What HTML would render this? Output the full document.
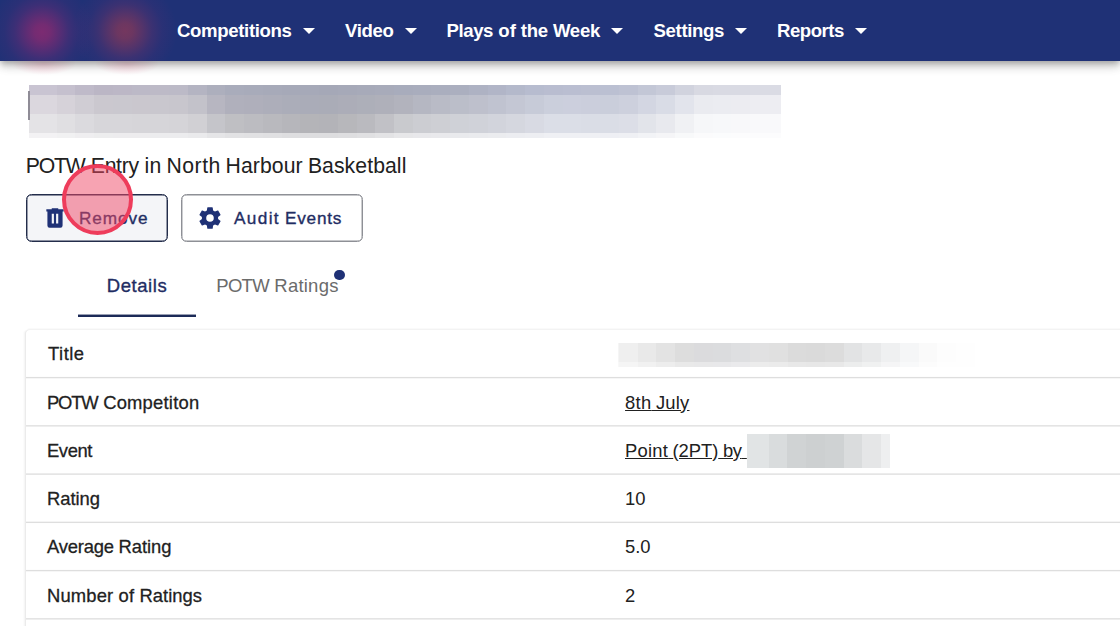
<!DOCTYPE html>
<html lang="en">
<head>
<meta charset="utf-8">
<title>POTW Entry</title>
<style>
  html, body { margin: 0; padding: 0; }
  body {
    width: 1120px; height: 626px; overflow: hidden; position: relative;
    background: #ffffff;
    font-family: "Liberation Sans", sans-serif;
    color: #212121;
  }
  .abs { position: absolute; white-space: nowrap; }

  /* ---------- top navigation ---------- */
  .nav {
    position: absolute; left: 0; top: 0; width: 1120px; height: 61px;
    background: #1f3176;
    box-shadow: 0 3px 5.5px -1.3px rgba(0,0,0,.2), 0 6px 8px 0 rgba(0,0,0,.14), 0 1.5px 14px 0 rgba(0,0,0,.12);
    z-index: 5;
  }
  .navclip { position: absolute; left: 0; top: 0; width: 1120px; height: 61px; overflow: hidden; z-index: 6; }
  .blob { position: absolute; border-radius: 50%; }
  .glow { position: absolute; top: 53px; width: 64px; height: 22px; z-index: 4; border-radius: 50%;
          background: radial-gradient(ellipse closest-side, rgba(226,96,132,.24) 0%, rgba(226,96,132,.12) 55%, rgba(226,96,132,0) 100%); }
  .navitem {
    position: absolute; top: 0; height: 61px; line-height: 61px; z-index: 7;
    color: #ffffff; font-weight: 700; font-size: 18.6px; letter-spacing: -0.35px; white-space: nowrap;
  }
  .caret {
    position: absolute; top: 28px; width: 0; height: 0; z-index: 7;
    border-left: 6px solid transparent; border-right: 6px solid transparent;
    border-top: 6.5px solid #ffffff;
  }

  /* ---------- page header ---------- */
  .subtitle { left: 26px; top: 152px; font-size: 21.2px; line-height: 28px; color: #212121; }

  .btn {
    position: absolute; top: 194px; height: 47.5px; box-sizing: border-box;
    border: 1px solid #8e9096; box-shadow: inset 0 0 0 .45px #8e9096; border-radius: 5.5px; background: #ffffff;
    color: #1f2d63; font-weight: 400; -webkit-text-stroke: 0.35px #1f2d63; font-size: 17.2px; letter-spacing: 0.9px; white-space: nowrap;
  }
  .btn.hover { border-color: #232d4b; box-shadow: inset 0 0 0 .45px #232d4b; background: #f4f5f8; }
  .btn svg { position: absolute; top: 9.9px; width: 26px; height: 26px; fill: #1f3176; }
  .btn > span { position: absolute; top: 0; line-height: 46px; }

  .clickring {
    position: absolute; left: 62.2px; top: 163.5px; width: 71px; height: 71px; box-sizing: border-box;
    border-radius: 50%; border: 4px solid #ee3c5b; background: rgba(240, 72, 102, .5); z-index: 20;
  }

  /* ---------- tabs ---------- */
  .tab { position: absolute; top: 254px; height: 64px; line-height: 64px; font-size: 18.5px; white-space: nowrap; }
  .tab.active { color: #1f2d63; font-weight: 400; -webkit-text-stroke: 0.35px #1f2d63; }
  .tab.idle { color: #6b6b6b; }
  .slider { position: absolute; left: 78px; top: 315px; width: 118px; height: 2px; background: #1c2a57; box-shadow: 0 -1px 0 0 rgba(28,42,87,.45); }
  .dot { position: absolute; left: 334px; top: 269.5px; width: 10.6px; height: 10.6px; border-radius: 50%; background: #1f3176; }

  /* ---------- details card ---------- */
  .card {
    position: absolute; left: 26px; top: 330px; width: 1200px; height: 400px;
    background: #fff; border-radius: 4px;
    box-shadow: -1px 0 0 0 #ebebeb, -2px 0 0 0 #f6f6f6, -3px 0 0 0 #fcfcfc, 0 -1px 0 0 #f3f3f3, 0 -2px 0 0 #fafafa;
  }
  .row { position: absolute; left: 0; width: 1200px; height: 48.25px; }
  .ln { position: absolute; left: 0; width: 1200px; height: 1px; }
  .row .k { position: absolute; left: 21px; top: 1px; line-height: 48.25px; font-weight: 400; -webkit-text-stroke: 0.28px #212121; font-size: 18.4px; color: #212121; white-space: nowrap; }
  .row .v { position: absolute; left: 599px; top: 1px; line-height: 48.25px; font-size: 18.4px; color: #212121; white-space: nowrap; }
  .row .v a { color: #212121; text-decoration: underline; }
  .pxwrap { position: absolute; left: 0; top: 0; width: 0; height: 0; z-index: 3; }
  .pxwrap i { position: absolute; display: block; }
</style>
</head>
<body>

<!-- NAV -->
<div class="nav"></div>
<div class="navclip">
  <div class="blob" style="left:-10px;top:-20px;width:104px;height:104px;background:radial-gradient(circle closest-side, rgba(139,42,113,.86) 0%, rgba(139,42,113,.78) 15%, rgba(135,42,115,.56) 33%, rgba(125,42,118,.32) 52%, rgba(110,42,120,.14) 72%, rgba(100,42,120,0) 100%);"></div>
  <div class="blob" style="left:73px;top:-21px;width:104px;height:104px;background:radial-gradient(circle closest-side, rgba(130,56,91,.86) 0%, rgba(130,56,91,.78) 15%, rgba(128,54,96,.56) 33%, rgba(120,50,105,.32) 52%, rgba(110,46,115,.14) 72%, rgba(100,42,120,0) 100%);"></div>
</div>
<div class="glow" style="left:12px;"></div>
<div class="glow" style="left:95px;"></div>

<div class="navitem" style="left:177px;">Competitions</div><div class="caret" style="left:303px;"></div>
<div class="navitem" style="left:345px;">Video</div><div class="caret" style="left:404.5px;"></div>
<div class="navitem" style="left:446.5px;letter-spacing:0;"><!--T:plays--><span style="letter-spacing:-0.41px">Plays</span> <span style="letter-spacing:0.09px;margin-left:0.00px">of</span> <span style="letter-spacing:-0.19px;margin-left:-0.49px">the</span> <span style="letter-spacing:-0.30px;margin-left:-0.21px">Week</span><!--/T:plays--></div><div class="caret" style="left:611px;"></div>
<div class="navitem" style="left:653.5px;">Settings</div><div class="caret" style="left:735px;"></div>
<div class="navitem" style="left:777px;letter-spacing:-0.5px;">Reports</div><div class="caret" style="left:855px;"></div>

<!-- pixelated (redacted) page title -->
<!--PXTITLE--><div class="pxwrap"><i style="left:29.3px;top:85.4px;width:8.9px;height:9.6px;background:#c9c4d2"></i><i style="left:37.9px;top:85.4px;width:19.0px;height:9.6px;background:#c9c4d2"></i><i style="left:56.6px;top:85.4px;width:19.0px;height:9.6px;background:#c5c0ce"></i><i style="left:75.4px;top:85.4px;width:19.0px;height:9.6px;background:#bfbac9"></i><i style="left:94.1px;top:85.4px;width:19.0px;height:9.6px;background:#bbb6c5"></i><i style="left:112.8px;top:85.4px;width:19.0px;height:9.6px;background:#bcb7c6"></i><i style="left:131.6px;top:85.4px;width:19.0px;height:9.6px;background:#bcb9c7"></i><i style="left:150.3px;top:85.4px;width:19.0px;height:9.6px;background:#bdbac7"></i><i style="left:169.1px;top:85.4px;width:19.0px;height:9.6px;background:#bcbac7"></i><i style="left:187.8px;top:85.4px;width:19.0px;height:9.6px;background:#b4b4c2"></i><i style="left:206.5px;top:85.4px;width:19.0px;height:9.6px;background:#adafbd"></i><i style="left:225.3px;top:85.4px;width:19.0px;height:9.6px;background:#a9acbb"></i><i style="left:244.0px;top:85.4px;width:19.0px;height:9.6px;background:#a8abba"></i><i style="left:262.8px;top:85.4px;width:19.0px;height:9.6px;background:#a7aab9"></i><i style="left:281.5px;top:85.4px;width:19.0px;height:9.6px;background:#a6a9b8"></i><i style="left:300.2px;top:85.4px;width:19.0px;height:9.6px;background:#a6a9b8"></i><i style="left:319.0px;top:85.4px;width:19.0px;height:9.6px;background:#a5a8b7"></i><i style="left:337.7px;top:85.4px;width:19.0px;height:9.6px;background:#a6a9b8"></i><i style="left:356.5px;top:85.4px;width:19.0px;height:9.6px;background:#a7aab9"></i><i style="left:375.2px;top:85.4px;width:19.0px;height:9.6px;background:#a8abba"></i><i style="left:393.9px;top:85.4px;width:19.0px;height:9.6px;background:#a8acbc"></i><i style="left:412.7px;top:85.4px;width:19.0px;height:9.6px;background:#a9adbd"></i><i style="left:431.4px;top:85.4px;width:19.0px;height:9.6px;background:#aaaebe"></i><i style="left:450.2px;top:85.4px;width:19.0px;height:9.6px;background:#abafbf"></i><i style="left:468.9px;top:85.4px;width:19.0px;height:9.6px;background:#aeb2c3"></i><i style="left:487.6px;top:85.4px;width:19.0px;height:9.6px;background:#b1b5c7"></i><i style="left:506.4px;top:85.4px;width:19.0px;height:9.6px;background:#b4b9cb"></i><i style="left:525.1px;top:85.4px;width:19.0px;height:9.6px;background:#b7bccf"></i><i style="left:543.9px;top:85.4px;width:19.0px;height:9.6px;background:#b9bdd0"></i><i style="left:562.6px;top:85.4px;width:19.0px;height:9.6px;background:#babed1"></i><i style="left:581.3px;top:85.4px;width:19.0px;height:9.6px;background:#bbbfd1"></i><i style="left:600.1px;top:85.4px;width:19.0px;height:9.6px;background:#bbc0d2"></i><i style="left:618.8px;top:85.4px;width:19.0px;height:9.6px;background:#bec2d3"></i><i style="left:637.6px;top:85.4px;width:19.0px;height:9.6px;background:#c3c7d6"></i><i style="left:656.3px;top:85.4px;width:19.0px;height:9.6px;background:#c8cbd9"></i><i style="left:675.0px;top:85.4px;width:19.0px;height:9.6px;background:#d1d3de"></i><i style="left:693.8px;top:85.4px;width:19.0px;height:9.6px;background:#d8d9e2"></i><i style="left:712.5px;top:85.4px;width:19.0px;height:9.6px;background:#d9dae3"></i><i style="left:731.3px;top:85.4px;width:19.0px;height:9.6px;background:#d9dae3"></i><i style="left:750.0px;top:85.4px;width:19.0px;height:9.6px;background:#dadbe4"></i><i style="left:768.7px;top:85.4px;width:12.8px;height:9.6px;background:#dadbe4"></i><i style="left:29.3px;top:94.8px;width:8.9px;height:19.6px;background:#dbd7de"></i><i style="left:37.9px;top:94.8px;width:19.0px;height:19.6px;background:#dbd7de"></i><i style="left:56.6px;top:94.8px;width:19.0px;height:19.6px;background:#d6d2d9"></i><i style="left:75.4px;top:94.8px;width:19.0px;height:19.6px;background:#d0cdd4"></i><i style="left:94.1px;top:94.8px;width:19.0px;height:19.6px;background:#cbc8cf"></i><i style="left:112.8px;top:94.8px;width:19.0px;height:19.6px;background:#cac8cf"></i><i style="left:131.6px;top:94.8px;width:19.0px;height:19.6px;background:#cac7ce"></i><i style="left:150.3px;top:94.8px;width:19.0px;height:19.6px;background:#c9c7ce"></i><i style="left:169.1px;top:94.8px;width:19.0px;height:19.6px;background:#c8c6cd"></i><i style="left:187.8px;top:94.8px;width:19.0px;height:19.6px;background:#c3c2ca"></i><i style="left:206.5px;top:94.8px;width:19.0px;height:19.6px;background:#b7b6c1"></i><i style="left:225.3px;top:94.8px;width:19.0px;height:19.6px;background:#b0b0bc"></i><i style="left:244.0px;top:94.8px;width:19.0px;height:19.6px;background:#afafbb"></i><i style="left:262.8px;top:94.8px;width:19.0px;height:19.6px;background:#adaeba"></i><i style="left:281.5px;top:94.8px;width:19.0px;height:19.6px;background:#abadb9"></i><i style="left:300.2px;top:94.8px;width:19.0px;height:19.6px;background:#aaacb8"></i><i style="left:319.0px;top:94.8px;width:19.0px;height:19.6px;background:#aaacb7"></i><i style="left:337.7px;top:94.8px;width:19.0px;height:19.6px;background:#acadb8"></i><i style="left:356.5px;top:94.8px;width:19.0px;height:19.6px;background:#adafb9"></i><i style="left:375.2px;top:94.8px;width:19.0px;height:19.6px;background:#afb0ba"></i><i style="left:393.9px;top:94.8px;width:19.0px;height:19.6px;background:#b2b3bd"></i><i style="left:412.7px;top:94.8px;width:19.0px;height:19.6px;background:#b5b7c2"></i><i style="left:431.4px;top:94.8px;width:19.0px;height:19.6px;background:#b9bbc6"></i><i style="left:450.2px;top:94.8px;width:19.0px;height:19.6px;background:#bbbec9"></i><i style="left:468.9px;top:94.8px;width:19.0px;height:19.6px;background:#bec0cc"></i><i style="left:487.6px;top:94.8px;width:19.0px;height:19.6px;background:#c0c3d0"></i><i style="left:506.4px;top:94.8px;width:19.0px;height:19.6px;background:#c4c7d4"></i><i style="left:525.1px;top:94.8px;width:19.0px;height:19.6px;background:#c7cbd8"></i><i style="left:543.9px;top:94.8px;width:19.0px;height:19.6px;background:#cbcfdc"></i><i style="left:562.6px;top:94.8px;width:19.0px;height:19.6px;background:#cccfdd"></i><i style="left:581.3px;top:94.8px;width:19.0px;height:19.6px;background:#cbcedc"></i><i style="left:600.1px;top:94.8px;width:19.0px;height:19.6px;background:#cacedb"></i><i style="left:618.8px;top:94.8px;width:19.0px;height:19.6px;background:#cdd0dd"></i><i style="left:637.6px;top:94.8px;width:19.0px;height:19.6px;background:#d3d6e2"></i><i style="left:656.3px;top:94.8px;width:19.0px;height:19.6px;background:#d9dce6"></i><i style="left:675.0px;top:94.8px;width:19.0px;height:19.6px;background:#e2e4ec"></i><i style="left:693.8px;top:94.8px;width:19.0px;height:19.6px;background:#eaebf0"></i><i style="left:712.5px;top:94.8px;width:19.0px;height:19.6px;background:#ebecf1"></i><i style="left:731.3px;top:94.8px;width:19.0px;height:19.6px;background:#ececf1"></i><i style="left:750.0px;top:94.8px;width:19.0px;height:19.6px;background:#ededf2"></i><i style="left:768.7px;top:94.8px;width:12.8px;height:19.6px;background:#ededf2"></i><i style="left:29.3px;top:114.2px;width:8.9px;height:19.2px;background:#e4e3e6"></i><i style="left:37.9px;top:114.2px;width:19.0px;height:19.2px;background:#e4e3e6"></i><i style="left:56.6px;top:114.2px;width:19.0px;height:19.2px;background:#e0dfe2"></i><i style="left:75.4px;top:114.2px;width:19.0px;height:19.2px;background:#dbdade"></i><i style="left:94.1px;top:114.2px;width:19.0px;height:19.2px;background:#d7d6da"></i><i style="left:112.8px;top:114.2px;width:19.0px;height:19.2px;background:#d7d6da"></i><i style="left:131.6px;top:114.2px;width:19.0px;height:19.2px;background:#d6d5d9"></i><i style="left:150.3px;top:114.2px;width:19.0px;height:19.2px;background:#d6d5d9"></i><i style="left:169.1px;top:114.2px;width:19.0px;height:19.2px;background:#d5d4d8"></i><i style="left:187.8px;top:114.2px;width:19.0px;height:19.2px;background:#d1d0d4"></i><i style="left:206.5px;top:114.2px;width:19.0px;height:19.2px;background:#c5c5ca"></i><i style="left:225.3px;top:114.2px;width:19.0px;height:19.2px;background:#bfbfc3"></i><i style="left:244.0px;top:114.2px;width:19.0px;height:19.2px;background:#bcbcc1"></i><i style="left:262.8px;top:114.2px;width:19.0px;height:19.2px;background:#b9b9be"></i><i style="left:281.5px;top:114.2px;width:19.0px;height:19.2px;background:#b6b6bb"></i><i style="left:300.2px;top:114.2px;width:19.0px;height:19.2px;background:#b4b4b8"></i><i style="left:319.0px;top:114.2px;width:19.0px;height:19.2px;background:#b3b3b8"></i><i style="left:337.7px;top:114.2px;width:19.0px;height:19.2px;background:#b7b7bb"></i><i style="left:356.5px;top:114.2px;width:19.0px;height:19.2px;background:#bababf"></i><i style="left:375.2px;top:114.2px;width:19.0px;height:19.2px;background:#c1c1c6"></i><i style="left:393.9px;top:114.2px;width:19.0px;height:19.2px;background:#c9cace"></i><i style="left:412.7px;top:114.2px;width:19.0px;height:19.2px;background:#cccdd2"></i><i style="left:431.4px;top:114.2px;width:19.0px;height:19.2px;background:#cecfd4"></i><i style="left:450.2px;top:114.2px;width:19.0px;height:19.2px;background:#cfd1d7"></i><i style="left:468.9px;top:114.2px;width:19.0px;height:19.2px;background:#d0d2d9"></i><i style="left:487.6px;top:114.2px;width:19.0px;height:19.2px;background:#d2d4dc"></i><i style="left:506.4px;top:114.2px;width:19.0px;height:19.2px;background:#d5d7df"></i><i style="left:525.1px;top:114.2px;width:19.0px;height:19.2px;background:#d8dae3"></i><i style="left:543.9px;top:114.2px;width:19.0px;height:19.2px;background:#dbdee7"></i><i style="left:562.6px;top:114.2px;width:19.0px;height:19.2px;background:#dbdee7"></i><i style="left:581.3px;top:114.2px;width:19.0px;height:19.2px;background:#dadde6"></i><i style="left:600.1px;top:114.2px;width:19.0px;height:19.2px;background:#dadde6"></i><i style="left:618.8px;top:114.2px;width:19.0px;height:19.2px;background:#dcdee7"></i><i style="left:637.6px;top:114.2px;width:19.0px;height:19.2px;background:#e2e4ea"></i><i style="left:656.3px;top:114.2px;width:19.0px;height:19.2px;background:#e8e9ee"></i><i style="left:675.0px;top:114.2px;width:19.0px;height:19.2px;background:#f0f1f4"></i><i style="left:693.8px;top:114.2px;width:19.0px;height:19.2px;background:#f6f7f9"></i><i style="left:712.5px;top:114.2px;width:19.0px;height:19.2px;background:#f7f8fa"></i><i style="left:731.3px;top:114.2px;width:19.0px;height:19.2px;background:#f8f8fa"></i><i style="left:750.0px;top:114.2px;width:19.0px;height:19.2px;background:#f9f9fb"></i><i style="left:768.7px;top:114.2px;width:12.8px;height:19.2px;background:#f9f9fb"></i><i style="left:29.3px;top:133.2px;width:8.9px;height:4.8px;background:#f3f2f4"></i><i style="left:37.9px;top:133.2px;width:19.0px;height:4.8px;background:#f3f2f4"></i><i style="left:56.6px;top:133.2px;width:19.0px;height:4.8px;background:#f1f1f2"></i><i style="left:75.4px;top:133.2px;width:19.0px;height:4.8px;background:#efeef0"></i><i style="left:94.1px;top:133.2px;width:19.0px;height:4.8px;background:#ededee"></i><i style="left:112.8px;top:133.2px;width:19.0px;height:4.8px;background:#edecee"></i><i style="left:131.6px;top:133.2px;width:19.0px;height:4.8px;background:#edecee"></i><i style="left:150.3px;top:133.2px;width:19.0px;height:4.8px;background:#ececee"></i><i style="left:169.1px;top:133.2px;width:19.0px;height:4.8px;background:#ececee"></i><i style="left:187.8px;top:133.2px;width:19.0px;height:4.8px;background:#eaeaec"></i><i style="left:206.5px;top:133.2px;width:19.0px;height:4.8px;background:#e5e5e7"></i><i style="left:225.3px;top:133.2px;width:19.0px;height:4.8px;background:#e2e2e4"></i><i style="left:244.0px;top:133.2px;width:19.0px;height:4.8px;background:#e1e1e3"></i><i style="left:262.8px;top:133.2px;width:19.0px;height:4.8px;background:#e0e0e2"></i><i style="left:281.5px;top:133.2px;width:19.0px;height:4.8px;background:#dedee0"></i><i style="left:300.2px;top:133.2px;width:19.0px;height:4.8px;background:#dddddf"></i><i style="left:319.0px;top:133.2px;width:19.0px;height:4.8px;background:#dddddf"></i><i style="left:337.7px;top:133.2px;width:19.0px;height:4.8px;background:#dedee0"></i><i style="left:356.5px;top:133.2px;width:19.0px;height:4.8px;background:#e0e0e2"></i><i style="left:375.2px;top:133.2px;width:19.0px;height:4.8px;background:#e3e3e5"></i><i style="left:393.9px;top:133.2px;width:19.0px;height:4.8px;background:#e7e7e9"></i><i style="left:412.7px;top:133.2px;width:19.0px;height:4.8px;background:#e8e8eb"></i><i style="left:431.4px;top:133.2px;width:19.0px;height:4.8px;background:#e9e9ec"></i><i style="left:450.2px;top:133.2px;width:19.0px;height:4.8px;background:#e9eaed"></i><i style="left:468.9px;top:133.2px;width:19.0px;height:4.8px;background:#eaebee"></i><i style="left:487.6px;top:133.2px;width:19.0px;height:4.8px;background:#ebecef"></i><i style="left:506.4px;top:133.2px;width:19.0px;height:4.8px;background:#ecedf1"></i><i style="left:525.1px;top:133.2px;width:19.0px;height:4.8px;background:#edeef2"></i><i style="left:543.9px;top:133.2px;width:19.0px;height:4.8px;background:#eff0f4"></i><i style="left:562.6px;top:133.2px;width:19.0px;height:4.8px;background:#eff0f4"></i><i style="left:581.3px;top:133.2px;width:19.0px;height:4.8px;background:#eff0f4"></i><i style="left:600.1px;top:133.2px;width:19.0px;height:4.8px;background:#eeeff4"></i><i style="left:618.8px;top:133.2px;width:19.0px;height:4.8px;background:#eff0f4"></i><i style="left:637.6px;top:133.2px;width:19.0px;height:4.8px;background:#f2f3f6"></i><i style="left:656.3px;top:133.2px;width:19.0px;height:4.8px;background:#f5f5f7"></i><i style="left:675.0px;top:133.2px;width:19.0px;height:4.8px;background:#f8f9fa"></i><i style="left:693.8px;top:133.2px;width:19.0px;height:4.8px;background:#fbfbfc"></i><i style="left:712.5px;top:133.2px;width:19.0px;height:4.8px;background:#fbfcfd"></i><i style="left:731.3px;top:133.2px;width:19.0px;height:4.8px;background:#fcfcfd"></i><i style="left:750.0px;top:133.2px;width:19.0px;height:4.8px;background:#fcfcfd"></i><i style="left:768.7px;top:133.2px;width:12.8px;height:4.8px;background:#fcfcfd"></i><i style="left:27.8px;top:90.5px;width:1.8px;height:29px;background:#8f8c96"></i></div><!--/PXTITLE-->
<!--PXTVAL--><div class="pxwrap"><i style="left:617.9px;top:342.5px;width:1.2px;height:20px;background:#f5f5f5"></i><i style="left:617.9px;top:362.4px;width:1.2px;height:4.4px;background:#f8f8f8"></i><i style="left:618.8px;top:342.5px;width:19.0px;height:20px;background:#efefef"></i><i style="left:618.8px;top:362.4px;width:19.0px;height:4.4px;background:#f5f5f5"></i><i style="left:637.6px;top:342.5px;width:19.0px;height:20px;background:#e9e9e9"></i><i style="left:637.6px;top:362.4px;width:19.0px;height:4.4px;background:#f1f1f1"></i><i style="left:656.3px;top:342.5px;width:19.0px;height:20px;background:#e3e3e3"></i><i style="left:656.3px;top:362.4px;width:19.0px;height:4.4px;background:#ededed"></i><i style="left:675.0px;top:342.5px;width:19.0px;height:20px;background:#dddddd"></i><i style="left:675.0px;top:362.4px;width:19.0px;height:4.4px;background:#e9e9e9"></i><i style="left:693.8px;top:342.5px;width:19.0px;height:20px;background:#dbdbdd"></i><i style="left:693.8px;top:362.4px;width:19.0px;height:4.4px;background:#e8e8e9"></i><i style="left:712.5px;top:342.5px;width:19.0px;height:20px;background:#dbdcde"></i><i style="left:712.5px;top:362.4px;width:19.0px;height:4.4px;background:#e8e8ea"></i><i style="left:731.3px;top:342.5px;width:19.0px;height:20px;background:#dedfe1"></i><i style="left:731.3px;top:362.4px;width:19.0px;height:4.4px;background:#eaeaec"></i><i style="left:750.0px;top:342.5px;width:19.0px;height:20px;background:#e1e1e2"></i><i style="left:750.0px;top:362.4px;width:19.0px;height:4.4px;background:#ececec"></i><i style="left:768.7px;top:342.5px;width:19.0px;height:20px;background:#e0e0e0"></i><i style="left:768.7px;top:362.4px;width:19.0px;height:4.4px;background:#ebebeb"></i><i style="left:787.5px;top:342.5px;width:19.0px;height:20px;background:#dbdbdb"></i><i style="left:787.5px;top:362.4px;width:19.0px;height:4.4px;background:#e8e8e8"></i><i style="left:806.2px;top:342.5px;width:19.0px;height:20px;background:#dadada"></i><i style="left:806.2px;top:362.4px;width:19.0px;height:4.4px;background:#e7e7e7"></i><i style="left:825.0px;top:342.5px;width:19.0px;height:20px;background:#dcdcdc"></i><i style="left:825.0px;top:362.4px;width:19.0px;height:4.4px;background:#e8e8e8"></i><i style="left:843.7px;top:342.5px;width:19.0px;height:20px;background:#e2e3e4"></i><i style="left:843.7px;top:362.4px;width:19.0px;height:4.4px;background:#eceded"></i><i style="left:862.4px;top:342.5px;width:19.0px;height:20px;background:#e8e9ea"></i><i style="left:862.4px;top:362.4px;width:19.0px;height:4.4px;background:#f0f1f1"></i><i style="left:881.2px;top:342.5px;width:19.0px;height:20px;background:#eff0f1"></i><i style="left:881.2px;top:362.4px;width:19.0px;height:4.4px;background:#f5f5f6"></i><i style="left:899.9px;top:342.5px;width:19.0px;height:20px;background:#f5f6f7"></i><i style="left:899.9px;top:362.4px;width:19.0px;height:4.4px;background:#f8f9fa"></i><i style="left:918.7px;top:342.5px;width:19.0px;height:20px;background:#fafafa"></i><i style="left:918.7px;top:362.4px;width:19.0px;height:4.4px;background:#fcfcfc"></i><i style="left:937.4px;top:342.5px;width:19.0px;height:20px;background:#fdfdfd"></i><i style="left:937.4px;top:362.4px;width:19.0px;height:4.4px;background:#fefefe"></i><i style="left:956.1px;top:342.5px;width:19.1px;height:20px;background:#fefefe"></i><i style="left:956.1px;top:362.4px;width:19.1px;height:4.4px;background:#fefefe"></i></div><!--/PXTVAL-->
<!--PXEV--><div class="pxwrap"><i style="left:747.4px;top:433.8px;width:21.6px;height:34px;background:#e1e4e5"></i><i style="left:768.7px;top:433.8px;width:19.0px;height:34px;background:#d9dcdd"></i><i style="left:787.4px;top:433.8px;width:19.2px;height:34px;background:#d0d3d4"></i><i style="left:806.3px;top:433.8px;width:18.5px;height:34px;background:#cdd0d1"></i><i style="left:824.5px;top:433.8px;width:19.3px;height:34px;background:#cfd2d3"></i><i style="left:843.5px;top:433.8px;width:19.0px;height:34px;background:#dadcdd"></i><i style="left:862.2px;top:433.8px;width:19.1px;height:34px;background:#e5e6e7"></i><i style="left:881.0px;top:433.8px;width:9.4px;height:34px;background:#eeeff0"></i></div><!--/PXEV-->

<div class="abs subtitle"><!--T:sub--><span style="letter-spacing:-1.20px;margin-left:-0.23px">POTW</span> <span style="letter-spacing:-0.30px;margin-left:0.37px">Entry</span> <span style="letter-spacing:0.35px;margin-left:-0.28px">in</span> <span style="letter-spacing:0.48px;margin-left:-0.92px">North</span> <span style="letter-spacing:0.07px;margin-left:-1.08px">Harbour</span> <span style="letter-spacing:0.08px;margin-left:-0.67px">Basketball</span><!--/T:sub--></div>

<!-- buttons -->
<div class="btn hover" style="left:26px;width:142px;">
  <svg viewBox="0 0 24 24" style="left:14.7px;"><path d="M9,3V4H4V6H5V19A2,2 0 0,0 7,21H17A2,2 0 0,0 19,19V6H20V4H15V3H9M9,8H11V17H9V8M13,8H15V17H13V8Z"/></svg>
  <span style="left:52px;">Remove</span>
</div>
<div class="btn" style="left:181px;width:182px;">
  <svg viewBox="0 0 24 24" style="left:14.6px;"><path d="M12,15.5A3.5,3.5 0 0,1 8.5,12A3.5,3.5 0 0,1 12,8.5A3.5,3.5 0 0,1 15.5,12A3.5,3.5 0 0,1 12,15.5M19.43,12.97C19.47,12.65 19.5,12.33 19.5,12C19.5,11.67 19.47,11.34 19.43,11L21.54,9.37C21.73,9.22 21.78,8.95 21.66,8.73L19.66,5.27C19.54,5.05 19.27,4.96 19.05,5.05L16.56,6.05C16.04,5.66 15.5,5.32 14.87,5.07L14.5,2.42C14.46,2.18 14.25,2 14,2H10C9.75,2 9.54,2.18 9.5,2.42L9.13,5.07C8.5,5.32 7.96,5.66 7.44,6.05L4.95,5.05C4.73,4.96 4.46,5.05 4.34,5.27L2.34,8.73C2.21,8.95 2.27,9.22 2.46,9.37L4.57,11C4.53,11.34 4.5,11.67 4.5,12C4.5,12.33 4.53,12.65 4.57,12.97L2.46,14.63C2.27,14.78 2.21,15.05 2.34,15.27L4.34,18.73C4.46,18.95 4.73,19.03 4.95,18.95L7.44,17.94C7.96,18.34 8.5,18.68 9.13,18.93L9.5,21.58C9.54,21.82 9.75,22 10,22H14C14.25,22 14.46,21.82 14.5,21.58L14.87,18.93C15.5,18.67 16.04,18.34 16.56,17.94L19.05,18.95C19.27,19.03 19.54,18.95 19.66,18.73L21.66,15.27C21.78,15.05 21.73,14.78 21.54,14.63L19.43,12.97Z"/></svg>
  <span style="left:52px;letter-spacing:0;"><!--T:audit--><span style="letter-spacing:1.36px">Audit</span> <span style="letter-spacing:0.73px;margin-left:0.32px">Events</span><!--/T:audit--></span>
</div>
<div class="clickring"></div>

<!-- tabs -->
<div class="tab active" style="left:106.8px;letter-spacing:0.55px;">Details</div>
<div class="tab idle" style="left:216.3px;"><!--T:ratings--><span style="letter-spacing:-0.73px">POTW</span> <span style="letter-spacing:0.22px;margin-left:0.33px">Ratings</span><!--/T:ratings--></div>
<div class="dot"></div>
<div class="slider"></div>

<!-- details card -->
<div class="card">
  <!--LINES--><div class="ln" style="top:46px;background:#fdfdfd"></div><div class="ln" style="top:47px;background:#dedede"></div><div class="ln" style="top:48px;background:#f6f6f6"></div><div class="ln" style="top:95px;background:#e4e4e4"></div><div class="ln" style="top:96px;background:#eeeeee"></div><div class="ln" style="top:143px;background:#ececec"></div><div class="ln" style="top:144px;background:#e5e5e5"></div><div class="ln" style="top:191px;background:#f4f4f4"></div><div class="ln" style="top:192px;background:#dedede"></div><div class="ln" style="top:193px;background:#fefefe"></div><div class="ln" style="top:239px;background:#fdfdfd"></div><div class="ln" style="top:240px;background:#dedede"></div><div class="ln" style="top:241px;background:#f6f6f6"></div><div class="ln" style="top:288px;background:#e4e4e4"></div><div class="ln" style="top:289px;background:#eeeeee"></div><!--/LINES-->
  <div class="row" style="top:-0.65px;"><span class="k" style="left:22px;letter-spacing:0.5px;">Title</span></div>
  <div class="row" style="top:47.60px;"><span class="k"><!--T:comp--><span style="letter-spacing:-1.20px">POTW</span> <span style="letter-spacing:0.22px;margin-left:0.64px">Competiton</span><!--/T:comp--></span><span class="v"><a><!--T:july--><span style="letter-spacing:0.35px;margin-left:0.06px">8th</span> <span style="letter-spacing:0.21px;margin-left:-0.84px">July</span><!--/T:july--></a></span></div>
  <div class="row" style="top:95.85px;"><span class="k"><!--T:event--><span style="letter-spacing:-0.41px">Event</span><!--/T:event--></span><span class="v"><a><!--T:point--><span style="letter-spacing:0.24px">Point</span> <span style="letter-spacing:-0.03px;margin-left:-0.75px">(2PT)</span> <span style="letter-spacing:-0.35px;margin-left:-0.50px">by</span><!--/T:point-->&nbsp;</a></span></div>
  <div class="row" style="top:144.10px;"><span class="k"><!--T:rating--><span style="letter-spacing:-0.04px">Rating</span><!--/T:rating--></span><span class="v">10</span></div>
  <div class="row" style="top:192.35px;"><span class="k"><!--T:avg--><span style="letter-spacing:-0.20px">Average</span> <span style="letter-spacing:-0.04px;margin-left:-0.33px">Rating</span><!--/T:avg--></span><span class="v">5.0</span></div>
  <div class="row" style="top:240.60px;"><span class="k"><!--T:num--><span style="letter-spacing:0.16px">Number</span> <span style="letter-spacing:0.35px;margin-left:-0.02px">of</span> <span style="letter-spacing:0.04px;margin-left:-0.21px">Ratings</span><!--/T:num--></span><span class="v">2</span></div>
  <div class="row" style="top:288.85px;"></div>
</div>

</body>
</html>
